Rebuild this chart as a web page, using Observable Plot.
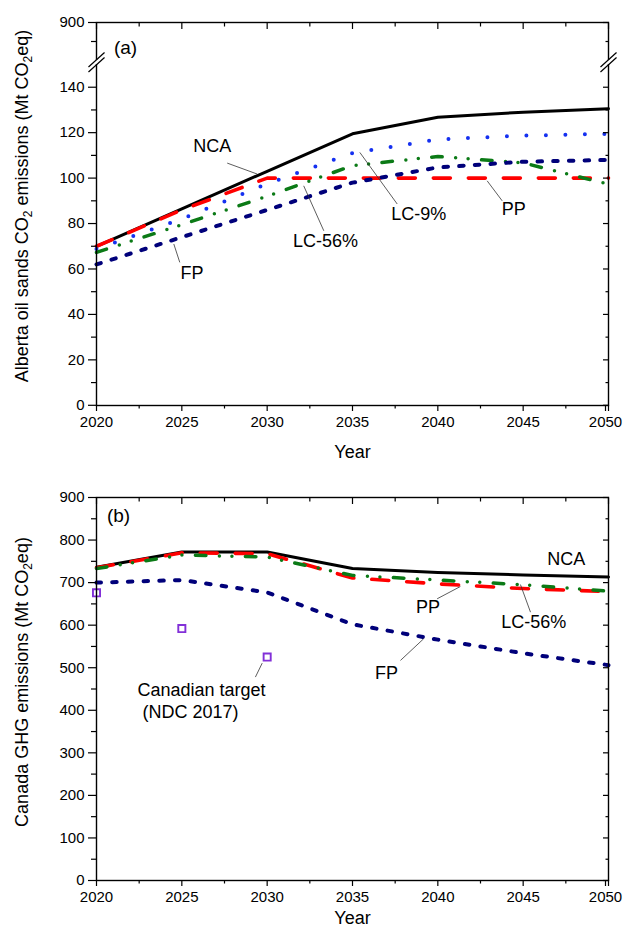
<!DOCTYPE html>
<html><head><meta charset="utf-8">
<script src="https://cdn.jsdelivr.net/npm/d3@7"></script>
<script src="https://cdn.jsdelivr.net/npm/@observablehq/plot@0.6"></script>
<style>body{margin:0;background:#fff;} svg{display:block;} #chart{width:623px;}</style>
</head><body><div id="chart"></div>
<script>
// ---- data ----
const years = [2020, 2025, 2030, 2035, 2040, 2045, 2050];
// Panel (a): Alberta oil sands CO2 emissions (Mt CO2eq)
const aNCA  = [70, 86.5, 103, 119.5, 126.8, 129, 130.5];
const aPP   = [70, 86, 100, 100, 100, 100, 100];
const aLC9  = [68.8, 82, 97.5, 111, 117, 118.7, 119.5];
const aLC56 = [67.3, 79.5, 92, 105.5, 109.5, 106.7, 97.3];
const aFP   = [62, 74, 86, 98, 104.7, 107.2, 108];
// Panel (b): Canada GHG emissions (Mt CO2eq)
const bNCA  = [736, 772, 772, 733, 724, 718, 713];
const bPP   = [735, 770, 768, 711, 697, 686, 679];
const bLC56 = [733, 765, 760, 717, 706, 695, 680];
const bFP   = [700, 706, 677, 602, 566, 534, 506];
// Canadian target (NDC 2017)
const targetYears = [2020, 2025, 2030];
const targetValues = [676, 592, 525];
// ticks
const xMajor = [2020, 2025, 2030, 2035, 2040, 2045, 2050];
const xMinor = [2022.5, 2027.5, 2032.5, 2037.5, 2042.5, 2047.5];
const aYMajor = [0, 20, 40, 60, 80, 100, 120, 140, 900];
const aYMinor = [10, 30, 50, 70, 90, 110, 130, 875];
const bYMajor = [0, 100, 200, 300, 400, 500, 600, 700, 800, 900];
const bYMinor = [50, 150, 250, 350, 450, 550, 650, 750, 850];

const FONT = "'Liberation Sans', Arial, Helvetica, sans-serif";
const rows = vals => years.map((year, i) => ({year, v: vals[i]}));
const targets = targetYears.map((year, i) => ({year, v: targetValues[i]}));

const COL = {NCA: "#000000", PP: "#ff0000", LC9: "#1530f0", LC56: "#0b7a16", FP: "#00007a", target: "#8230d8"};

function xAxes() {
  const last = xMajor[xMajor.length - 1];
  return [
    Plot.axisX(xMajor.slice(0, -1), {anchor: "bottom", tickSize: 6, tickPadding: 5, tickFormat: d => String(d), fontSize: 15, label: null, strokeWidth: 1.2}),
    Plot.axisX([last], {anchor: "bottom", tickSize: 6, tickPadding: 5, tickFormat: d => String(d), fontSize: 15, label: null, strokeWidth: 1.2, dx: -3}),
    Plot.axisX([last], {anchor: "bottom", tickSize: 6, tickFormat: () => "", label: null, strokeWidth: 1.2}),
    Plot.axisX(xMinor, {anchor: "bottom", tickSize: 3.5, tickFormat: () => "", label: null, strokeWidth: 1.2}),
    Plot.axisX(xMajor, {anchor: "top", tickSize: -6, tickFormat: () => "", label: null, strokeWidth: 1.2}),
    Plot.axisX(xMinor, {anchor: "top", tickSize: -3.5, tickFormat: () => "", label: null, strokeWidth: 1.2})
  ];
}
function yAxes(major, minor) {
  return [
    Plot.axisY(major, {anchor: "left", tickSize: 8, tickPadding: 4, fontSize: 15, tickFormat: d => String(d), label: null, strokeWidth: 1.2}),
    Plot.axisY(minor, {anchor: "left", tickSize: 5, tickFormat: () => "", label: null, strokeWidth: 1.2}),
    Plot.axisY(major, {anchor: "right", tickSize: -6, tickFormat: () => "", label: null, strokeWidth: 1.2}),
    Plot.axisY(minor, {anchor: "right", tickSize: -3.5, tickFormat: () => "", label: null, strokeWidth: 1.2})
  ];
}
const lineOpts = {x: "year", y: "v"};
const NCAstyle  = {stroke: COL.NCA, strokeWidth: 3};
const PPstyle   = {stroke: COL.PP, strokeWidth: 3.6, strokeDasharray: "17,18"};
const LC9style  = {stroke: COL.LC9, strokeWidth: 4, strokeDasharray: "0,19.5", strokeLinecap: "round"};
const LC56style = {stroke: COL.LC56, strokeWidth: 3.5, strokeDasharray: "10.5,13.5,0,12.5,0,13.5", strokeLinecap: "round"};
const FPstyle   = {stroke: COL.FP, strokeWidth: 4, strokeDasharray: "4.5,11.2", strokeLinecap: "round"};
const txt = {fontSize: 18, fill: "black"};
const lead = {stroke: "#333", strokeWidth: 0.8};

function yTitle(svg, cx, cy, parts) {
  const t = d3.select(svg).append("text")
    .attr("transform", `translate(${cx},${cy}) rotate(-90)`)
    .attr("text-anchor", "middle")
    .attr("font-family", FONT)
    .attr("font-size", 18)
    .attr("fill", "black");
  parts.forEach(([s, sub]) => {
    const ts = t.append("tspan").text(s);
    if (sub) ts.attr("font-size", 12).attr("dy", 4);
    else if (sub === false) ts.attr("dy", -4);
  });
}

// ---- Panel (a) ----
const svgA = Plot.plot({
  width: 623, height: 466,
  marginLeft: 96, marginRight: 15, marginTop: 22, marginBottom: 61,
  style: {fontFamily: FONT, color: "black", background: "white"},
  x: {domain: [2020, 2050]},
  y: {type: "linear", domain: [0, 150, 850, 900], range: [404.8, 64, 60, 22]},
  marks: [
    Plot.line(rows(aNCA), {...lineOpts, ...NCAstyle}),
    Plot.line(rows(aPP), {...lineOpts, ...PPstyle}),
    Plot.line(rows(aLC9), {...lineOpts, ...LC9style}),
    Plot.line(rows(aLC56), {...lineOpts, ...LC56style}),
    Plot.line(rows(aFP), {...lineOpts, ...FPstyle}),
    Plot.frame({stroke: "black", strokeWidth: 1.4}),
    ...xAxes(),
    ...yAxes(aYMajor, aYMinor),
    // axis break
    Plot.ruleX([2020, 2050], {y1: 150, y2: 850, stroke: "white", strokeWidth: 5}),
    Plot.link([2020, 2050], {x1: d => d - 0.47, x2: d => d + 0.47, y1: 146.7, y2: 853.9, stroke: "black", strokeWidth: 1.2}),
    Plot.link([2020, 2050], {x1: d => d - 0.47, x2: d => d + 0.47, y1: 146.7, y2: 853.9, dy: -5, stroke: "black", strokeWidth: 1.2}),
    // annotations
    Plot.text(["(a)"], {frameAnchor: "top-left", dx: 29, dy: 25, textAnchor: "middle", lineAnchor: "middle", fontSize: 19}),
    Plot.link([0], {x1: 2027.66, y1: 106.6, x2: 2029.41, y2: 101.8, ...lead}),
    Plot.text(["NCA"], {x: 2026.78, y: 114.2, ...txt}),
    Plot.link([0], {x1: 2033.32, y1: 76.8, x2: 2032.14, y2: 96.6, ...lead}),
    Plot.text(["LC-56%"], {x: 2033.42, y: 72.0, ...txt}),
    Plot.link([0], {x1: 2024.88, y1: 62.9, x2: 2024.53, y2: 71.0, ...lead}),
    Plot.text(["FP"], {x: 2025.6, y: 58.1, ...txt}),
    Plot.link([0], {x1: 2043.77, y1: 90.0, x2: 2042.89, y2: 98.8, ...lead}),
    Plot.text(["PP"], {x: 2044.45, y: 86.4, ...txt}),
    Plot.link([0], {x1: 2037.62, y1: 88.6, x2: 2035.43, y2: 111.3, ...lead}),
    Plot.text(["LC-9%"], {x: 2038.88, y: 84.2, ...txt}),
    Plot.text(["Year"], {frameAnchor: "bottom", dy: 47, fontSize: 18, lineAnchor: "middle"})
  ]
});
yTitle(svgA, 28, 206, [["Alberta oil sands CO"], ["2", true], [" emissions (Mt CO", false], ["2", true], ["eq)", false]]);

// ---- Panel (b) ----
const svgB = Plot.plot({
  width: 623, height: 468,
  marginLeft: 96, marginRight: 15, marginTop: 31, marginBottom: 54,
  style: {fontFamily: FONT, color: "black", background: "white"},
  x: {domain: [2020, 2050]},
  y: {domain: [0, 900]},
  marks: [
    Plot.line(rows(bNCA), {...lineOpts, ...NCAstyle}),
    Plot.line(rows(bPP), {...lineOpts, ...PPstyle}),
    Plot.line(rows(bLC56), {...lineOpts, ...LC56style}),
    Plot.line(rows(bFP), {...lineOpts, ...FPstyle}),
    Plot.dot(targets, {x: "year", y: "v", symbol: "square", r: 4, stroke: COL.target, strokeWidth: 1.9, fill: "white"}),
    Plot.frame({stroke: "black", strokeWidth: 1.4}),
    ...xAxes(),
    ...yAxes(bYMajor, bYMinor),
    Plot.text(["(b)"], {frameAnchor: "top-left", dx: 22, dy: 18, textAnchor: "middle", lineAnchor: "middle", fontSize: 19}),
    Plot.text(["NCA"], {x: 2047.52, y: 754.2, ...txt}),
    Plot.link([0], {x1: 2039.96, y1: 662, x2: 2041.32, y2: 690.8, ...lead}),
    Plot.text(["PP"], {x: 2039.43, y: 642.3, ...txt}),
    Plot.link([0], {x1: 2045.43, y1: 630.5, x2: 2044.84, y2: 695.5, ...lead}),
    Plot.text(["LC-56%"], {x: 2045.62, y: 607, ...txt}),
    Plot.link([0], {x1: 2037.81, y1: 517.1, x2: 2039.17, y2: 568.1, ...lead}),
    Plot.text(["FP"], {x: 2036.99, y: 486.6, ...txt}),
    Plot.link([0], {x1: 2029.31, y1: 478, x2: 2029.71, y2: 510.8, ...lead}),
    Plot.text(["Canadian target"], {x: 2022.4, y: 446.7, textAnchor: "start", ...txt}),
    Plot.text([" (NDC 2017)"], {x: 2022.4, y: 395.8, textAnchor: "start", ...txt}),
    Plot.text(["Year"], {frameAnchor: "bottom", dy: 38, fontSize: 18, lineAnchor: "middle"})
  ]
});
yTitle(svgB, 28, 216, [["Canada GHG emissions (Mt CO"], ["2", true], ["eq)", false]]);

document.getElementById("chart").append(svgA, svgB);
</script>
</body></html>
